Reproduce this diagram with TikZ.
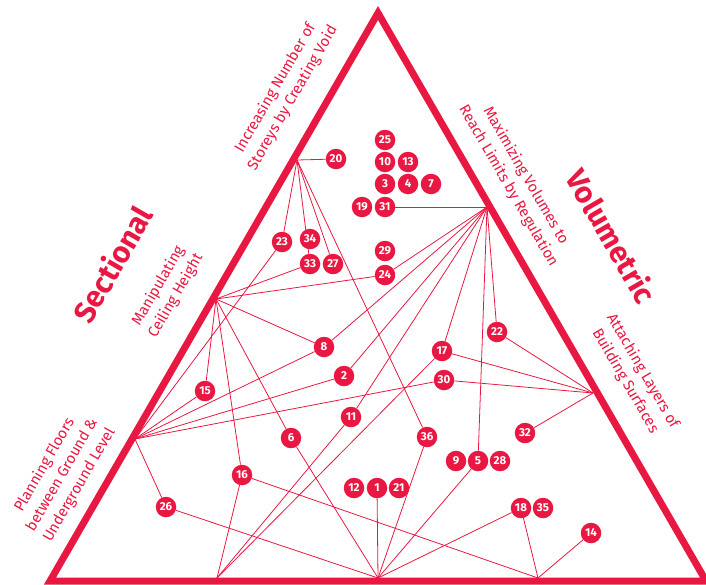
\documentclass[tikz,border=0pt]{standalone}
\usepackage{fontspec}
\setmainfont{Fira Sans}
\usetikzlibrary{graphs, backgrounds}
\definecolor{crimson}{RGB}{233,24,66}
\def\Storeys{Increasing Number of\\Storeys by Creating Void}
\def\Ceiling{Manipulating\\Ceiling Height}
\def\Underground{Planning Floors\\between Ground \&\\Underground Level}
\def\Regulation{Maximizing Volumes to\\Reach Limits by Regulation}
\def\Surfaces{Attaching Layers of\\Building Surfaces}
\def\Sectional{Sectional}
\def\Volumetric{Volumetric}

\begin{document}
\begin{tikzpicture}[x=1pt, y=-1pt, crimson,
    num/.style={circle, fill=crimson, text=white, inner sep=0pt, minimum size=20.5pt,
        font=\bfseries\fontsize{11.5}{11.5}\selectfont},
    side/.style={text=crimson, align=center, font=\fontsize{15}{20}\selectfont},
    axis/.style={text=crimson, font=\bfseries\fontsize{30}{30}\selectfont}]
    \useasboundingbox (0,0) rectangle (706,584);

    \coordinate (top) at (378,13);
    \coordinate (left) at (50,581);
    \coordinate (right) at (706,581);
    \draw[line width=7pt, line join=miter] (top) -- (left) -- (right) -- cycle;

    % hubs on the sides
    \coordinate (hubA) at (297,160);
    \coordinate (hubB) at (216,299);
    \coordinate (hubC) at (135,439);
    \coordinate (hubD) at (487,207);
    \coordinate (hubE) at (593,393);
    \coordinate (hubF) at (378,578);
    \coordinate (hubG) at (538,578);
    \coordinate (hubH) at (217,578);

    \node[side, rotate=60] (storeys) at (284,93) {\Storeys};
    \node[side, rotate=60] (ceiling) at (167,291) {\Ceiling};
    \node[side, rotate=60] (underground) at (62,475) {\Underground};
    \node[side, rotate=-60] (regulation) at (517,181) {\Regulation};
    \node[side, rotate=-60] (surfaces) at (634,376) {\Surfaces};
    \node[axis, rotate=60] (sectional) at (112,264) {\Sectional};
    \node[axis, rotate=-60] (volumetric) at (612,236) {\Volumetric};

    \node[num] (n25) at (385,140) {25};
    \node[num] (n10) at (385,162) {10};
    \node[num] (n13) at (408,162) {13};
    \node[num] (n3) at (385,184) {3};
    \node[num] (n4) at (408,184) {4};
    \node[num] (n7) at (431,184) {7};
    \node[num] (n19) at (362,207) {19};
    \node[num] (n31) at (385,207) {31};
    \node[num] (n20) at (336,159) {20};
    \node[num] (n23) at (282,242) {23};
    \node[num] (n34) at (310,239) {34};
    \node[num] (n33) at (310,264) {33};
    \node[num] (n27) at (333,264) {27};
    \node[num] (n29) at (385,251) {29};
    \node[num] (n24) at (385,275) {24};
    \node[num] (n8) at (324,347) {8};
    \node[num] (n2) at (344,376) {2};
    \node[num] (n15) at (205,391) {15};
    \node[num] (n11) at (351,417) {11};
    \node[num] (n6) at (291,438) {6};
    \node[num] (n22) at (497,332) {22};
    \node[num] (n17) at (442,351) {17};
    \node[num] (n30) at (444,380) {30};
    \node[num] (n36) at (427,437) {36};
    \node[num] (n32) at (525,433) {32};
    \node[num] (n9) at (456,461) {9};
    \node[num] (n5) at (478,461) {5};
    \node[num] (n28) at (500,461) {28};
    \node[num] (n16) at (242,475) {16};
    \node[num] (n26) at (166,507) {26};
    \node[num] (n12) at (354,488) {12};
    \node[num] (n1) at (377,488) {1};
    \node[num] (n21) at (399,488) {21};
    \node[num] (n18) at (521,508) {18};
    \node[num] (n35) at (543,508) {35};
    \node[num] (n14) at (591,533) {14};

    \begin{pgfonlayer}{background}
    \graph [use existing nodes, edges={crimson, line width=.8pt}] {
        hubA -- {n20, n23, n33, n27, n36};
        hubB -- {n33, n24, n8, n15, n16, n6};
        hubC -- {n23, n15, n8, n2, n30, n26};
        hubD -- {n31, n24, n8, n2, n11, n17, n22, n5};
        hubE -- {n22, n17, n30, n32};
        hubF -- {n6, n26, n1, n36, n5, n18};
        hubG -- {n16, n18, n14};
        hubH -- {n16, n11, n17};
    };
    \end{pgfonlayer}
\end{tikzpicture}
\end{document}
